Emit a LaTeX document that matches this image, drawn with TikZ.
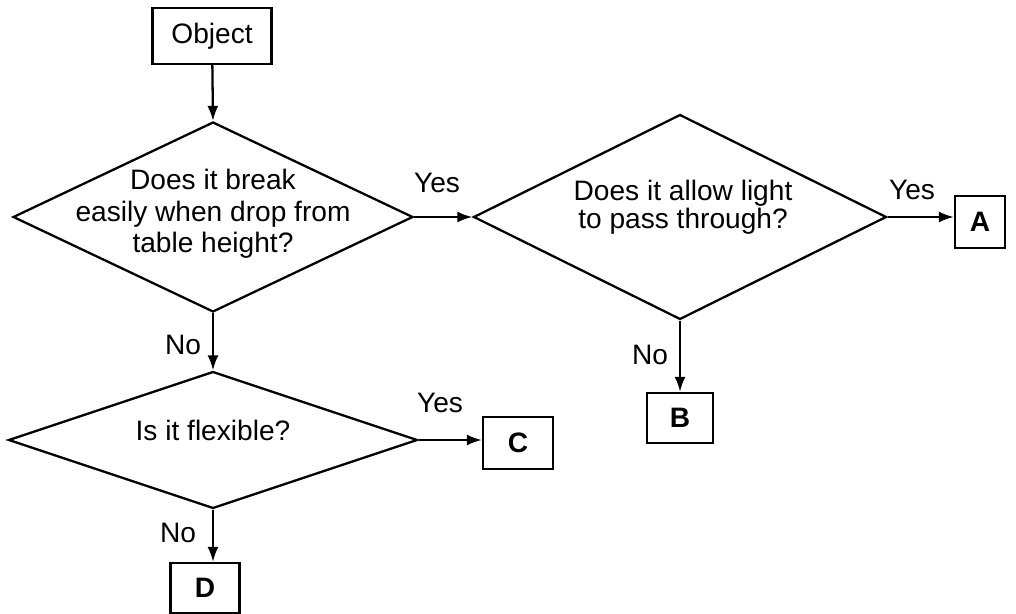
\documentclass[tikz,border=0pt]{standalone}
\usepackage{fontspec}
\setmainfont{Liberation Sans}
\usetikzlibrary{shapes.geometric,arrows.meta}
\begin{document}
\begin{tikzpicture}[
                        x=0.02cm, y=-0.02cm,
                        >={Latex[length=3mm,width=2.2mm]},
                        line width=1.3pt,
                        font=\fontsize{16}{18}\selectfont,
                        box/.style={rectangle, draw, inner sep=0pt, minimum width=1.36cm, minimum height=1.04cm},
                        decision/.style={diamond, draw, inner sep=0pt},
                        qtext/.style={align=center, inner sep=0pt}
                    ]
                    \useasboundingbox (0,0) rectangle (1016,614);
                    % Blocks
                    \node [box, minimum width=2.38cm, minimum height=1.12cm] (obj) at (212,36) {Object};
                    \node [decision, minimum width=8cm, minimum height=3.8cm] (q1) at (213,217) {};
                    \node [qtext] (q1txt) at (213,214) {Does it break\\easily when drop from\\table height?};
                    \node [decision, minimum width=8.26cm, minimum height=4.1cm] (q2) at (680,217) {};
                    \node [qtext, font=\fontsize{16}{13.5}\selectfont] (q2txt) at (683,207) {Does it allow light\\to pass through?};
                    \node [decision, minimum width=8.18cm, minimum height=2.74cm] (q3) at (213,440) {};
                    \node [qtext] (q3txt) at (213,430) {Is it flexible?};
                    \node [box, minimum width=1cm] (A) at (980,222) {\textbf{A}};
                    \node [box, minimum width=1.32cm, minimum height=1cm] (B) at (680,418) {\textbf{B}};
                    \node [box, minimum width=1.4cm] (C) at (518,443) {\textbf{C}};
                    \node [box, minimum width=1.38cm, minimum height=1cm] (D) at (205,588) {\textbf{D}};

                    % Labels
                    \node (yes1) at (437,183) {Yes};
                    \node (yes2) at (912,190) {Yes};
                    \node (yes3) at (440,403) {Yes};
                    \node (no1) at (183,345) {No};
                    \node (no2) at (650,355) {No};
                    \node (no3) at (178,533) {No};

                    % Connections
                    \draw [->] (obj) -- (q1.north);
                    \draw [->] (q1.east) -- (q2.west);
                    \draw [->] (q2.east) -- (q2.east -| A.west);
                    \draw [->] (q2.south) -- (B.north);
                    \draw [->] (q1.south) -- (q3.north);
                    \draw [->] (q3.east) -- (q3.east -| C.west);
                    \draw [->] (q3.south) -- (q3.south |- D.north);
                \end{tikzpicture}
\end{document}
